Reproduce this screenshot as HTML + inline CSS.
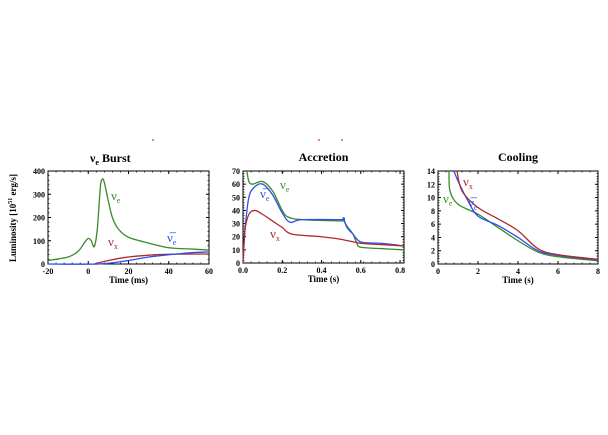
<!DOCTYPE html>
<html><head><meta charset="utf-8"><style>
body{margin:0;background:#fff;width:608px;height:430px;overflow:hidden}
svg text{font-family:"Liberation Serif",serif}
</style></head><body>
<svg id="c" width="608" height="430"></svg>
<script>
const p1Green=[[-20,15],[-10,30],[-5,55],[-2,90],[0,110],[1.5,100],[3,75],[4.5,150],[6,330],[7,365],[8,350],[10,270],[12,200],[15,150],[20,115],[30,90],[40,70],[50,65],[60,60]];
const p1Red=[[3,0],[10,15],[20,30],[30,38],[40,42],[60,43]];
const p1Blue=[[-20,0],[5,0],[20,15],[30,30],[40,40],[50,48],[60,52]];
const p2Green=[[0.02,70],[0.03,62],[0.05,60],[0.1,62],[0.15,55],[0.2,40],[0.23,35],[0.3,33],[0.5,32],[0.51,33],[0.53,28],[0.56,22],[0.58,15],[0.6,12],[0.7,11],[0.82,10]];
const p2Blue=[[0,0],[0.01,25],[0.03,50],[0.06,58],[0.1,60],[0.15,52],[0.2,38],[0.24,31],[0.3,33],[0.5,33],[0.51,34],[0.53,27],[0.56,22],[0.6,16],[0.7,15],[0.82,13]];
const p2Red=[[0,0],[0.01,25],[0.03,37],[0.06,40],[0.1,37],[0.15,32],[0.2,27],[0.25,22],[0.4,20],[0.5,18],[0.6,15],[0.7,14],[0.82,13]];
const p3Green=[[0.55,14],[0.6,11],[1,9],[2,7.5],[3,5.5],[4,3.5],[5,1.8],[6,1.1],[8,0.5]];
const p3Blue=[[0.8,14],[1,12.5],[1.5,9.5],[2,7.2],[3,5.8],[4,4],[5,2],[6,1.3],[8,0.6]];
const p3Red=[[0.95,14],[1.2,11],[2,8.5],[3,6.8],[4,5],[5,2.3],[6,1.4],[8,0.7]];
const p1XTicks=[-20,0,20,40,60], p1YTicks=[0,100,200,300,400];
const p2XTicks=["0.0","0.2","0.4","0.6","0.8"], p2YTicks=[0,10,20,30,40,50,60,70];
const p3XTicks=[0,2,4,6,8], p3YTicks=[0,2,4,6,8,10,12,14];
const G="#3a8a2a",B="#2b4ff0",R="#b02a2a";
const svg=document.getElementById('c');const NS="http://www.w3.org/2000/svg";
function mk(t,a,txt){const e=document.createElementNS(NS,t);for(const k in a)e.setAttribute(k,a[k]);if(txt!==undefined)e.textContent=txt;svg.appendChild(e);return e;}
function smooth(pts){let d='M'+pts[0][0]+','+pts[0][1];
 for(let i=0;i<pts.length-1;i++){const p0=pts[Math.max(0,i-1)],p1=pts[i],p2=pts[i+1],p3=pts[Math.min(pts.length-1,i+2)];
  const c1=[p1[0]+(p2[0]-p0[0])/6,p1[1]+(p2[1]-p0[1])/6],c2=[p2[0]-(p3[0]-p1[0])/6,p2[1]-(p3[1]-p1[1])/6];
  d+=' C'+c1.join(',')+' '+c2.join(',')+' '+p2.join(',');}return d;}
function panel(id,x0,x1,y0,y1,xmin,xmax,ymin,ymax,xt,yt,title,series){
 const sx=v=>x0+(v-xmin)/(xmax-xmin)*(x1-x0), sy=v=>y1-(v-ymin)/(ymax-ymin)*(y1-y0);
 const f=mk('rect',{x:x0,y:y0,width:x1-x0,height:y1-y0,fill:'none',stroke:'#000','stroke-width':1});
 
 const dx=(x1-x0)/((xt.length-1)*5),dy=(y1-y0)/((yt.length-1)*5);
 for(let X=x0;X<=x1+0.1;X+=dx){mk('line',{x1:X,x2:X,y1:y1,y2:y1-1.5,stroke:'#000','stroke-width':0.7});mk('line',{x1:X,x2:X,y1:y0,y2:y0+1.5,stroke:'#000','stroke-width':0.7});}
 for(let Y=y0;Y<=y1+0.1;Y+=dy){mk('line',{x1:x0,x2:x0+1.5,y1:Y,y2:Y,stroke:'#000','stroke-width':0.7});mk('line',{x1:x1,x2:x1-1.5,y1:Y,y2:Y,stroke:'#000','stroke-width':0.7});}
 xt.forEach(v=>{const X=sx(+v);mk('line',{x1:X,x2:X,y1:y1,y2:y1-3,stroke:'#000'});mk('line',{x1:X,x2:X,y1:y0,y2:y0+3,stroke:'#000'});
  const t=mk('text',{x:X,y:y1+10,'font-size':8,'font-weight':'bold','text-anchor':'middle'},v);});
 yt.forEach(v=>{const Y=sy(v);mk('line',{x1:x0,x2:x0+3,y1:Y,y2:Y,stroke:'#000'});mk('line',{x1:x1,x2:x1-3,y1:Y,y2:Y,stroke:'#000'});
  const t=mk('text',{x:x0-3,y:Y+3,'font-size':8,'font-weight':'bold','text-anchor':'end'},v);});
 if(title){const tt=mk('text',{x:(x0+x1)/2,y:y0-10,'font-size':12,'font-weight':'bold','text-anchor':'middle'},title);
 }
 series.forEach(([d,c,n])=>{const p=mk('path',{d:smooth(d.map(q=>[sx(q[0]),sy(Math.max(ymin,Math.min(ymax,q[1])))])),fill:'none',stroke:c,'stroke-width':1.3});
  });
 const xl=mk('text',{x:(x0+x1)/2,y:y1+19,'font-size':9,'font-weight':'bold','font-family':'Liberation Sans','text-anchor':'middle'},id==='burst'?'Time (ms)':'Time (s)');
 
}
panel('burst',48,209,171,264,-20,60,0,400,p1XTicks,p1YTicks,'',[[p1Green,G,'nu-e-line'],[p1Red,R,'nu-x-line'],[p1Blue,B,'anti-nu-e-line']]);
panel('accretion',243,404,171,263,0,0.82,0,70,p2XTicks,p2YTicks,'Accretion',[[p2Green,G,'nu-e-line'],[p2Blue,B,'anti-nu-e-line'],[p2Red,R,'nu-x-line']]);
panel('cooling',438,598,171,264,0,8,0,14,p3XTicks,p3YTicks,'Cooling',[[p3Green,G,'nu-e-line'],[p3Blue,B,'anti-nu-e-line'],[p3Red,R,'nu-x-line']]);
</script>
<svg width="608" height="430" style="position:absolute;left:0;top:0">
<text x="90" y="162" font-size="12" font-weight="bold" font-family="Liberation Serif">ν<tspan font-size="8" dy="3">e</tspan><tspan dy="-3"> Burst</tspan></text>
<g transform="translate(16,218) rotate(-90)"><text text-anchor="middle" font-size="9" font-weight="bold" font-family="Liberation Serif">Luminosity [10<tspan font-size="6" dy="-4">51</tspan><tspan dy="4"> erg/s]</tspan></text></g>
<g font-family="Liberation Serif" font-size="13">
<text x="111" y="200" fill="#3a8a2a">ν<tspan font-size="8" dy="3">e</tspan></text>
<text x="108" y="246" fill="#b02a2a">ν<tspan font-size="8" dy="3">x</tspan></text>
<text x="167" y="242" fill="#2b4ff0">ν̅<tspan font-size="8" dy="3">e</tspan></text>
<text x="280" y="189" fill="#3a8a2a">ν<tspan font-size="8" dy="3">e</tspan></text>
<text x="260" y="198" fill="#2b4ff0">ν̅<tspan font-size="8" dy="3">e</tspan></text>
<text x="270" y="238" fill="#b02a2a">ν<tspan font-size="8" dy="3">x</tspan></text>
<text x="463" y="186" fill="#b02a2a">ν<tspan font-size="8" dy="3">x</tspan></text>
<text x="468" y="207" fill="#2b4ff0">ν̅<tspan font-size="8" dy="3">e</tspan></text>
<text x="443" y="203" fill="#3a8a2a">ν<tspan font-size="8" dy="3">e</tspan></text>
</g>
<rect x="152" y="139" width="2" height="2" fill="#f08070"/><rect x="318" y="139" width="2" height="2" fill="#f08070"/><rect x="341" y="139" width="2" height="2" fill="#f08070"/>
</svg>
</body></html>
